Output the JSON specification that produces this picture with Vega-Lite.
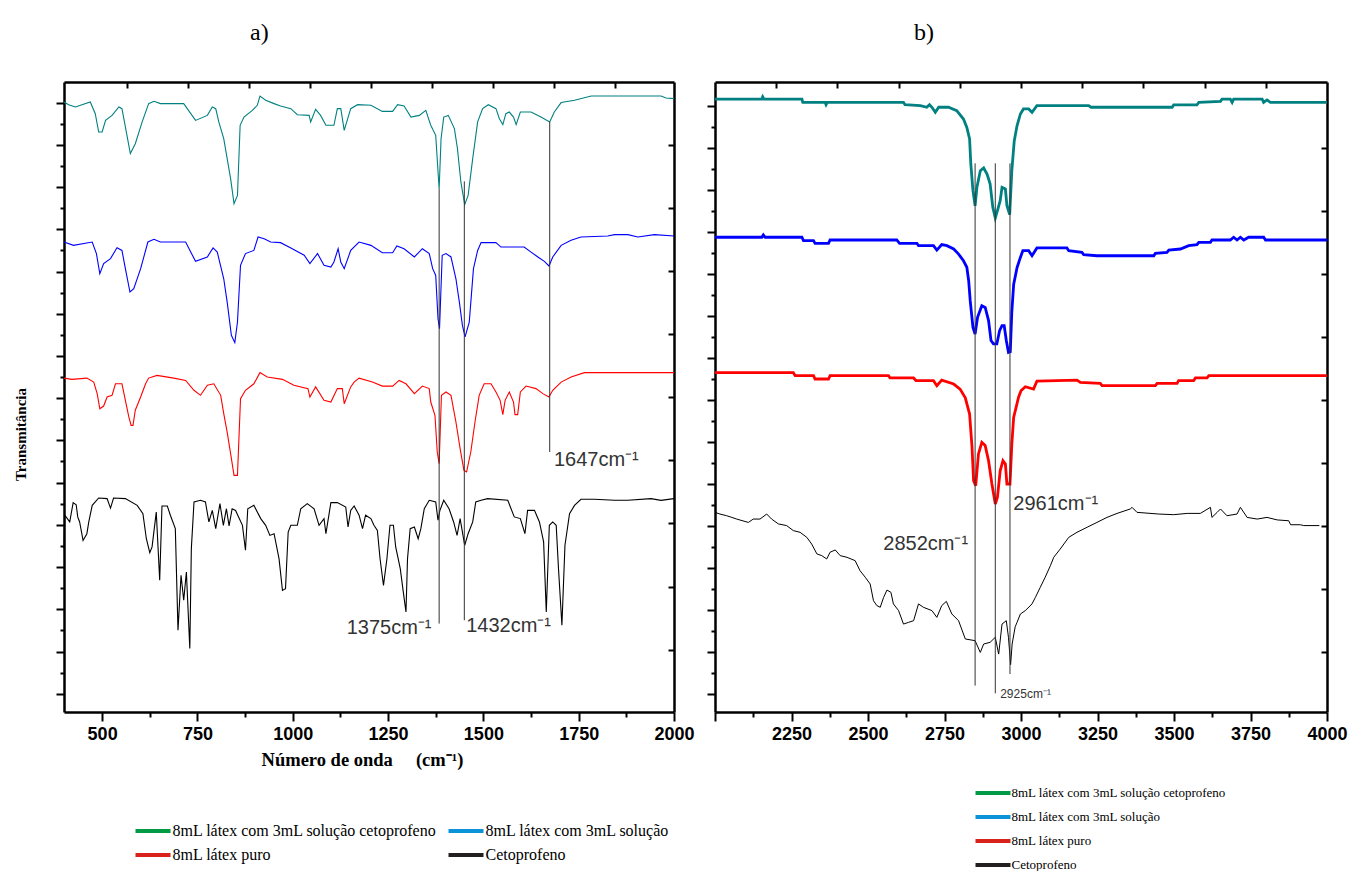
{
"$schema": "https://vega.github.io/schema/vega-lite/v6.json",
"padding": {"left": 13, "top": 21, "right": 5, "bottom": 5},
"background": "white",
"config": {
  "view": {"stroke": null},
  "axis": {"domainColor": "black", "domainWidth": 2.5, "tickColor": "black", "tickWidth": 2, "grid": false,
    "labelFont": "Liberation Sans", "labelFontWeight": "bold", "labelFontSize": 18, "labelColor": "black",
    "titleColor": "black"}
},
"spacing": 11,
"resolve": {"scale": {"color": "independent", "stroke": "independent"}, "legend": {"color": "independent", "stroke": "independent"}},
"datasets": {
"a": [
{"s":"t","x":400,"y":29.05},{"s":"t","x":412,"y":28.92},{"s":"t","x":430,"y":28.81},{"s":"t","x":447,"y":28.92},{"s":"t","x":469,"y":29.05},{"s":"t","x":482,"y":28.49},{"s":"t","x":491,"y":27.62},{"s":"t","x":500,"y":27.62},{"s":"t","x":509,"y":28.17},{"s":"t","x":526,"y":28.41},{"s":"t","x":544,"y":28.81},{"s":"t","x":552,"y":28.73},{"s":"t","x":561,"y":27.86},{"s":"t","x":574,"y":26.59},{"s":"t","x":587,"y":27.06},{"s":"t","x":605,"y":28.10},{"s":"t","x":622,"y":28.97},{"s":"t","x":636,"y":29.08},{"s":"t","x":653,"y":28.97},{"s":"t","x":714,"y":28.97},{"s":"t","x":745,"y":28.17},{"s":"t","x":776,"y":28.41},{"s":"t","x":789,"y":28.81},{"s":"t","x":798,"y":28.73},{"s":"t","x":806,"y":28.10},{"s":"t","x":819,"y":27.30},{"s":"t","x":828,"y":26.35},{"s":"t","x":837,"y":25.40},{"s":"t","x":846,"y":24.21},{"s":"t","x":855,"y":24.60},{"s":"t","x":862,"y":27.94},{"s":"t","x":872,"y":28.33},{"s":"t","x":894,"y":28.65},{"s":"t","x":907,"y":28.89},{"s":"t","x":914,"y":29.33},{"s":"t","x":929,"y":29.13},{"s":"t","x":951,"y":28.97},{"s":"t","x":968,"y":28.86},{"s":"t","x":995,"y":28.73},{"s":"t","x":1012,"y":28.44},{"s":"t","x":1043,"y":28.41},{"s":"t","x":1047,"y":28.10},{"s":"t","x":1060,"y":28.70},{"s":"t","x":1073,"y":28.41},{"s":"t","x":1087,"y":27.94},{"s":"t","x":1108,"y":27.94},{"s":"t","x":1117,"y":28.73},{"s":"t","x":1126,"y":28.73},{"s":"t","x":1135,"y":27.70},{"s":"t","x":1152,"y":28.73},{"s":"t","x":1170,"y":28.92},{"s":"t","x":1205,"y":28.89},{"s":"t","x":1235,"y":28.60},{"s":"t","x":1262,"y":28.60},{"s":"t","x":1275,"y":28.92},{"s":"t","x":1292,"y":28.86},{"s":"t","x":1310,"y":28.33},{"s":"t","x":1332,"y":28.41},{"s":"t","x":1349,"y":28.65},{"s":"t","x":1362,"y":27.94},{"s":"t","x":1375,"y":27.46},{"s":"t","x":1380,"y":26.03},{"s":"t","x":1384,"y":24.92},{"s":"t","x":1389,"y":27.30},{"s":"t","x":1396,"y":28.33},{"s":"t","x":1408,"y":28.41},{"s":"t","x":1424,"y":27.78},{"s":"t","x":1432,"y":26.83},{"s":"t","x":1441,"y":25.24},{"s":"t","x":1451,"y":24.16},{"s":"t","x":1460,"y":24.60},{"s":"t","x":1472,"y":26.35},{"s":"t","x":1485,"y":28.10},{"s":"t","x":1498,"y":28.73},{"s":"t","x":1513,"y":28.92},{"s":"t","x":1533,"y":28.73},{"s":"t","x":1542,"y":28.25},{"s":"t","x":1551,"y":27.97},{"s":"t","x":1559,"y":28.49},{"s":"t","x":1568,"y":28.57},{"s":"t","x":1579,"y":28.33},{"s":"t","x":1586,"y":27.97},{"s":"t","x":1597,"y":28.57},{"s":"t","x":1625,"y":28.57},{"s":"t","x":1651,"y":28.33},{"s":"t","x":1674,"y":28.10},{"s":"t","x":1686,"y":28.57},{"s":"t","x":1704,"y":29.02},{"s":"t","x":1739,"y":29.13},{"s":"t","x":1783,"y":29.33},{"s":"t","x":1818,"y":29.33},{"s":"t","x":1966,"y":29.33},{"s":"t","x":1979,"y":29.24},{"s":"t","x":2000,"y":29.21},
{"s":"b","x":400,"y":22.38},{"s":"b","x":425,"y":22.22},{"s":"b","x":474,"y":22.38},{"s":"b","x":485,"y":21.83},{"s":"b","x":494,"y":20.87},{"s":"b","x":504,"y":21.35},{"s":"b","x":522,"y":21.59},{"s":"b","x":539,"y":22.11},{"s":"b","x":552,"y":21.98},{"s":"b","x":561,"y":21.11},{"s":"b","x":573,"y":20.00},{"s":"b","x":583,"y":20.16},{"s":"b","x":601,"y":21.11},{"s":"b","x":620,"y":22.38},{"s":"b","x":636,"y":22.51},{"s":"b","x":653,"y":22.38},{"s":"b","x":719,"y":22.38},{"s":"b","x":745,"y":21.46},{"s":"b","x":776,"y":21.67},{"s":"b","x":791,"y":22.10},{"s":"b","x":802,"y":21.90},{"s":"b","x":819,"y":20.63},{"s":"b","x":828,"y":19.52},{"s":"b","x":839,"y":17.94},{"s":"b","x":848,"y":17.59},{"s":"b","x":855,"y":18.57},{"s":"b","x":863,"y":21.27},{"s":"b","x":876,"y":21.83},{"s":"b","x":898,"y":21.98},{"s":"b","x":909,"y":22.62},{"s":"b","x":925,"y":22.54},{"s":"b","x":942,"y":22.38},{"s":"b","x":968,"y":22.35},{"s":"b","x":995,"y":22.10},{"s":"b","x":1030,"y":21.75},{"s":"b","x":1045,"y":21.35},{"s":"b","x":1065,"y":21.83},{"s":"b","x":1082,"y":21.27},{"s":"b","x":1100,"y":21.19},{"s":"b","x":1108,"y":21.43},{"s":"b","x":1119,"y":22.06},{"s":"b","x":1126,"y":21.43},{"s":"b","x":1135,"y":21.11},{"s":"b","x":1152,"y":21.98},{"s":"b","x":1174,"y":22.38},{"s":"b","x":1205,"y":22.22},{"s":"b","x":1235,"y":21.87},{"s":"b","x":1262,"y":21.87},{"s":"b","x":1273,"y":22.19},{"s":"b","x":1292,"y":22.06},{"s":"b","x":1319,"y":21.67},{"s":"b","x":1340,"y":22.06},{"s":"b","x":1358,"y":21.83},{"s":"b","x":1367,"y":21.11},{"s":"b","x":1375,"y":20.79},{"s":"b","x":1381,"y":18.73},{"s":"b","x":1385,"y":18.25},{"s":"b","x":1392,"y":21.75},{"s":"b","x":1402,"y":21.83},{"s":"b","x":1415,"y":21.67},{"s":"b","x":1428,"y":20.63},{"s":"b","x":1437,"y":19.52},{"s":"b","x":1445,"y":18.41},{"s":"b","x":1452,"y":17.86},{"s":"b","x":1463,"y":18.57},{"s":"b","x":1474,"y":21.11},{"s":"b","x":1485,"y":21.98},{"s":"b","x":1494,"y":22.35},{"s":"b","x":1533,"y":22.35},{"s":"b","x":1546,"y":22.14},{"s":"b","x":1607,"y":22.14},{"s":"b","x":1625,"y":21.90},{"s":"b","x":1643,"y":21.67},{"s":"b","x":1660,"y":21.46},{"s":"b","x":1672,"y":21.24},{"s":"b","x":1682,"y":21.67},{"s":"b","x":1704,"y":22.22},{"s":"b","x":1730,"y":22.46},{"s":"b","x":1756,"y":22.62},{"s":"b","x":1826,"y":22.67},{"s":"b","x":1844,"y":22.73},{"s":"b","x":1879,"y":22.73},{"s":"b","x":1905,"y":22.62},{"s":"b","x":1949,"y":22.73},{"s":"b","x":2000,"y":22.67},
{"s":"r","x":400,"y":15.90},{"s":"r","x":421,"y":15.84},{"s":"r","x":460,"y":15.90},{"s":"r","x":478,"y":15.71},{"s":"r","x":487,"y":15.16},{"s":"r","x":494,"y":14.44},{"s":"r","x":504,"y":14.57},{"s":"r","x":513,"y":15.00},{"s":"r","x":526,"y":15.08},{"s":"r","x":535,"y":15.63},{"s":"r","x":552,"y":15.63},{"s":"r","x":561,"y":14.84},{"s":"r","x":570,"y":14.05},{"s":"r","x":576,"y":13.65},{"s":"r","x":581,"y":13.65},{"s":"r","x":587,"y":14.37},{"s":"r","x":601,"y":15.00},{"s":"r","x":614,"y":15.63},{"s":"r","x":622,"y":15.90},{"s":"r","x":644,"y":16.03},{"s":"r","x":688,"y":15.90},{"s":"r","x":719,"y":15.79},{"s":"r","x":741,"y":15.32},{"s":"r","x":758,"y":15.08},{"s":"r","x":776,"y":15.56},{"s":"r","x":793,"y":15.63},{"s":"r","x":811,"y":15.08},{"s":"r","x":819,"y":14.21},{"s":"r","x":828,"y":13.33},{"s":"r","x":837,"y":12.30},{"s":"r","x":846,"y":11.27},{"s":"r","x":855,"y":11.27},{"s":"r","x":863,"y":14.92},{"s":"r","x":876,"y":15.32},{"s":"r","x":898,"y":15.63},{"s":"r","x":914,"y":16.16},{"s":"r","x":933,"y":15.95},{"s":"r","x":973,"y":15.84},{"s":"r","x":1003,"y":15.56},{"s":"r","x":1040,"y":15.40},{"s":"r","x":1045,"y":15.00},{"s":"r","x":1060,"y":15.48},{"s":"r","x":1082,"y":14.84},{"s":"r","x":1100,"y":14.76},{"s":"r","x":1117,"y":15.40},{"s":"r","x":1130,"y":15.40},{"s":"r","x":1135,"y":14.68},{"s":"r","x":1152,"y":15.48},{"s":"r","x":1161,"y":15.71},{"s":"r","x":1174,"y":15.90},{"s":"r","x":1209,"y":15.71},{"s":"r","x":1235,"y":15.52},{"s":"r","x":1262,"y":15.52},{"s":"r","x":1279,"y":15.79},{"s":"r","x":1297,"y":15.63},{"s":"r","x":1319,"y":15.16},{"s":"r","x":1340,"y":15.52},{"s":"r","x":1358,"y":15.40},{"s":"r","x":1362,"y":14.76},{"s":"r","x":1373,"y":14.13},{"s":"r","x":1379,"y":12.38},{"s":"r","x":1384,"y":11.83},{"s":"r","x":1390,"y":15.08},{"s":"r","x":1402,"y":15.24},{"s":"r","x":1415,"y":15.08},{"s":"r","x":1428,"y":13.81},{"s":"r","x":1439,"y":12.54},{"s":"r","x":1449,"y":11.51},{"s":"r","x":1456,"y":11.43},{"s":"r","x":1467,"y":12.38},{"s":"r","x":1478,"y":13.81},{"s":"r","x":1489,"y":15.08},{"s":"r","x":1502,"y":15.63},{"s":"r","x":1520,"y":15.63},{"s":"r","x":1533,"y":15.24},{"s":"r","x":1544,"y":14.84},{"s":"r","x":1551,"y":14.16},{"s":"r","x":1557,"y":14.84},{"s":"r","x":1568,"y":15.24},{"s":"r","x":1579,"y":14.76},{"s":"r","x":1583,"y":14.16},{"s":"r","x":1590,"y":14.16},{"s":"r","x":1597,"y":15.24},{"s":"r","x":1612,"y":15.52},{"s":"r","x":1638,"y":15.40},{"s":"r","x":1656,"y":15.16},{"s":"r","x":1672,"y":15.00},{"s":"r","x":1682,"y":15.32},{"s":"r","x":1704,"y":15.71},{"s":"r","x":1730,"y":15.95},{"s":"r","x":1765,"y":16.16},{"s":"r","x":2000,"y":16.16},
{"s":"k","x":400,"y":7.78},{"s":"k","x":402,"y":9.37},{"s":"k","x":415,"y":9.05},{"s":"k","x":424,"y":9.97},{"s":"k","x":432,"y":9.87},{"s":"k","x":436,"y":9.29},{"s":"k","x":441,"y":9.05},{"s":"k","x":450,"y":8.17},{"s":"k","x":460,"y":8.49},{"s":"k","x":465,"y":9.05},{"s":"k","x":474,"y":9.84},{"s":"k","x":491,"y":10.19},{"s":"k","x":513,"y":10.16},{"s":"k","x":522,"y":9.71},{"s":"k","x":530,"y":10.19},{"s":"k","x":561,"y":10.16},{"s":"k","x":592,"y":9.84},{"s":"k","x":607,"y":9.44},{"s":"k","x":616,"y":8.25},{"s":"k","x":625,"y":7.59},{"s":"k","x":631,"y":7.86},{"s":"k","x":642,"y":9.52},{"s":"k","x":651,"y":6.27},{"s":"k","x":657,"y":9.81},{"s":"k","x":671,"y":9.81},{"s":"k","x":679,"y":9.37},{"s":"k","x":692,"y":8.73},{"s":"k","x":699,"y":3.89},{"s":"k","x":707,"y":6.51},{"s":"k","x":714,"y":5.32},{"s":"k","x":721,"y":6.67},{"s":"k","x":730,"y":3.02},{"s":"k","x":734,"y":7.78},{"s":"k","x":741,"y":10.00},{"s":"k","x":758,"y":10.08},{"s":"k","x":771,"y":10.00},{"s":"k","x":780,"y":9.05},{"s":"k","x":789,"y":9.60},{"s":"k","x":798,"y":8.73},{"s":"k","x":809,"y":9.92},{"s":"k","x":818,"y":8.89},{"s":"k","x":826,"y":9.68},{"s":"k","x":833,"y":8.86},{"s":"k","x":841,"y":9.68},{"s":"k","x":850,"y":9.60},{"s":"k","x":868,"y":8.89},{"s":"k","x":876,"y":7.70},{"s":"k","x":882,"y":9.68},{"s":"k","x":898,"y":9.84},{"s":"k","x":916,"y":9.21},{"s":"k","x":929,"y":8.89},{"s":"k","x":940,"y":8.41},{"s":"k","x":951,"y":8.49},{"s":"k","x":964,"y":7.30},{"s":"k","x":973,"y":5.79},{"s":"k","x":981,"y":5.87},{"s":"k","x":988,"y":8.57},{"s":"k","x":995,"y":8.89},{"s":"k","x":1012,"y":8.89},{"s":"k","x":1021,"y":9.68},{"s":"k","x":1038,"y":9.92},{"s":"k","x":1056,"y":9.68},{"s":"k","x":1069,"y":8.89},{"s":"k","x":1082,"y":9.21},{"s":"k","x":1087,"y":8.49},{"s":"k","x":1100,"y":9.97},{"s":"k","x":1117,"y":9.97},{"s":"k","x":1139,"y":9.76},{"s":"k","x":1145,"y":8.81},{"s":"k","x":1152,"y":9.60},{"s":"k","x":1161,"y":9.81},{"s":"k","x":1174,"y":9.37},{"s":"k","x":1183,"y":8.73},{"s":"k","x":1191,"y":9.37},{"s":"k","x":1205,"y":9.21},{"s":"k","x":1213,"y":8.89},{"s":"k","x":1222,"y":8.65},{"s":"k","x":1229,"y":7.30},{"s":"k","x":1238,"y":6.03},{"s":"k","x":1247,"y":7.30},{"s":"k","x":1255,"y":8.89},{"s":"k","x":1264,"y":8.89},{"s":"k","x":1270,"y":7.86},{"s":"k","x":1282,"y":6.83},{"s":"k","x":1290,"y":5.71},{"s":"k","x":1297,"y":4.76},{"s":"k","x":1301,"y":7.30},{"s":"k","x":1308,"y":8.73},{"s":"k","x":1319,"y":8.81},{"s":"k","x":1329,"y":8.25},{"s":"k","x":1336,"y":8.73},{"s":"k","x":1345,"y":9.68},{"s":"k","x":1358,"y":10.08},{"s":"k","x":1375,"y":10.00},{"s":"k","x":1381,"y":9.13},{"s":"k","x":1386,"y":9.60},{"s":"k","x":1396,"y":10.08},{"s":"k","x":1410,"y":9.68},{"s":"k","x":1422,"y":9.05},{"s":"k","x":1431,"y":8.41},{"s":"k","x":1439,"y":9.21},{"s":"k","x":1451,"y":7.94},{"s":"k","x":1460,"y":8.49},{"s":"k","x":1472,"y":9.05},{"s":"k","x":1480,"y":10.00},{"s":"k","x":1494,"y":10.08},{"s":"k","x":1511,"y":10.16},{"s":"k","x":1564,"y":10.08},{"s":"k","x":1581,"y":9.29},{"s":"k","x":1597,"y":9.21},{"s":"k","x":1609,"y":8.49},{"s":"k","x":1616,"y":9.60},{"s":"k","x":1634,"y":9.60},{"s":"k","x":1647,"y":9.05},{"s":"k","x":1658,"y":8.10},{"s":"k","x":1665,"y":4.76},{"s":"k","x":1673,"y":8.89},{"s":"k","x":1682,"y":9.05},{"s":"k","x":1691,"y":8.89},{"s":"k","x":1697,"y":6.83},{"s":"k","x":1706,"y":4.13},{"s":"k","x":1714,"y":7.94},{"s":"k","x":1726,"y":9.44},{"s":"k","x":1739,"y":9.84},{"s":"k","x":1756,"y":10.13},{"s":"k","x":1791,"y":10.13},{"s":"k","x":1844,"y":10.08},{"s":"k","x":1879,"y":10.08},{"s":"k","x":1940,"y":10.16},{"s":"k","x":1966,"y":10.08},{"s":"k","x":2000,"y":10.16}
],
"b": [
{"s":"t","x":2000,"y":28.33},{"s":"t","x":2153,"y":28.33},{"s":"t","x":2156,"y":28.44},{"s":"t","x":2160,"y":28.33},{"s":"t","x":2284,"y":28.33},{"s":"t","x":2287,"y":28.17},{"s":"t","x":2360,"y":28.17},{"s":"t","x":2363,"y":28.06},{"s":"t","x":2367,"y":28.17},{"s":"t","x":2616,"y":28.17},{"s":"t","x":2621,"y":28.06},{"s":"t","x":2671,"y":28.02},{"s":"t","x":2692,"y":27.94},{"s":"t","x":2701,"y":28.06},{"s":"t","x":2709,"y":27.94},{"s":"t","x":2720,"y":27.70},{"s":"t","x":2731,"y":27.94},{"s":"t","x":2763,"y":27.94},{"s":"t","x":2790,"y":27.78},{"s":"t","x":2812,"y":27.38},{"s":"t","x":2823,"y":26.98},{"s":"t","x":2832,"y":26.43},{"s":"t","x":2836,"y":25.24},{"s":"t","x":2843,"y":23.97},{"s":"t","x":2850,"y":23.25},{"s":"t","x":2856,"y":24.13},{"s":"t","x":2867,"y":24.92},{"s":"t","x":2878,"y":25.05},{"s":"t","x":2889,"y":24.76},{"s":"t","x":2899,"y":24.29},{"s":"t","x":2908,"y":23.17},{"s":"t","x":2916,"y":22.67},{"s":"t","x":2923,"y":23.02},{"s":"t","x":2932,"y":23.49},{"s":"t","x":2938,"y":24.13},{"s":"t","x":2949,"y":24.05},{"s":"t","x":2954,"y":23.25},{"s":"t","x":2963,"y":22.83},{"s":"t","x":2970,"y":24.92},{"s":"t","x":2978,"y":26.35},{"s":"t","x":2987,"y":27.06},{"s":"t","x":2998,"y":27.62},{"s":"t","x":3008,"y":27.86},{"s":"t","x":3025,"y":27.86},{"s":"t","x":3036,"y":27.70},{"s":"t","x":3052,"y":28.02},{"s":"t","x":3221,"y":28.02},{"s":"t","x":3229,"y":27.94},{"s":"t","x":3494,"y":27.94},{"s":"t","x":3499,"y":28.05},{"s":"t","x":3575,"y":28.05},{"s":"t","x":3581,"y":28.17},{"s":"t","x":3652,"y":28.22},{"s":"t","x":3657,"y":28.33},{"s":"t","x":3684,"y":28.33},{"s":"t","x":3690,"y":28.17},{"s":"t","x":3695,"y":28.33},{"s":"t","x":3788,"y":28.33},{"s":"t","x":3793,"y":28.17},{"s":"t","x":3804,"y":28.29},{"s":"t","x":3815,"y":28.17},{"s":"t","x":4000,"y":28.17},
{"s":"b","x":2000,"y":21.75},{"s":"b","x":2153,"y":21.75},{"s":"b","x":2158,"y":21.86},{"s":"b","x":2164,"y":21.75},{"s":"b","x":2284,"y":21.75},{"s":"b","x":2289,"y":21.59},{"s":"b","x":2322,"y":21.59},{"s":"b","x":2327,"y":21.46},{"s":"b","x":2371,"y":21.46},{"s":"b","x":2376,"y":21.62},{"s":"b","x":2594,"y":21.62},{"s":"b","x":2603,"y":21.46},{"s":"b","x":2660,"y":21.46},{"s":"b","x":2665,"y":21.35},{"s":"b","x":2714,"y":21.35},{"s":"b","x":2725,"y":21.14},{"s":"b","x":2741,"y":21.40},{"s":"b","x":2758,"y":21.35},{"s":"b","x":2780,"y":21.19},{"s":"b","x":2796,"y":20.95},{"s":"b","x":2812,"y":20.63},{"s":"b","x":2823,"y":20.32},{"s":"b","x":2829,"y":19.68},{"s":"b","x":2834,"y":18.73},{"s":"b","x":2843,"y":17.46},{"s":"b","x":2850,"y":17.14},{"s":"b","x":2858,"y":17.94},{"s":"b","x":2872,"y":18.49},{"s":"b","x":2883,"y":18.41},{"s":"b","x":2894,"y":17.78},{"s":"b","x":2902,"y":16.83},{"s":"b","x":2910,"y":16.67},{"s":"b","x":2921,"y":16.67},{"s":"b","x":2930,"y":17.30},{"s":"b","x":2938,"y":17.54},{"s":"b","x":2945,"y":17.54},{"s":"b","x":2952,"y":16.83},{"s":"b","x":2959,"y":16.27},{"s":"b","x":2965,"y":16.30},{"s":"b","x":2970,"y":18.20},{"s":"b","x":2976,"y":19.50},{"s":"b","x":2987,"y":20.30},{"s":"b","x":2998,"y":20.79},{"s":"b","x":3006,"y":21.11},{"s":"b","x":3025,"y":21.11},{"s":"b","x":3036,"y":20.87},{"s":"b","x":3052,"y":21.24},{"s":"b","x":3150,"y":21.24},{"s":"b","x":3156,"y":21.11},{"s":"b","x":3199,"y":21.03},{"s":"b","x":3205,"y":20.92},{"s":"b","x":3248,"y":20.87},{"s":"b","x":3434,"y":20.87},{"s":"b","x":3439,"y":20.98},{"s":"b","x":3477,"y":21.03},{"s":"b","x":3483,"y":21.14},{"s":"b","x":3521,"y":21.19},{"s":"b","x":3548,"y":21.35},{"s":"b","x":3575,"y":21.40},{"s":"b","x":3581,"y":21.51},{"s":"b","x":3619,"y":21.51},{"s":"b","x":3624,"y":21.62},{"s":"b","x":3684,"y":21.62},{"s":"b","x":3695,"y":21.75},{"s":"b","x":3706,"y":21.62},{"s":"b","x":3717,"y":21.75},{"s":"b","x":3728,"y":21.62},{"s":"b","x":3744,"y":21.75},{"s":"b","x":3793,"y":21.75},{"s":"b","x":3799,"y":21.62},{"s":"b","x":4000,"y":21.62},
{"s":"r","x":2000,"y":15.30},{"s":"r","x":2256,"y":15.30},{"s":"r","x":2262,"y":15.16},{"s":"r","x":2322,"y":15.16},{"s":"r","x":2327,"y":15.00},{"s":"r","x":2371,"y":15.00},{"s":"r","x":2376,"y":15.16},{"s":"r","x":2567,"y":15.16},{"s":"r","x":2572,"y":15.05},{"s":"r","x":2649,"y":15.05},{"s":"r","x":2657,"y":14.92},{"s":"r","x":2714,"y":14.92},{"s":"r","x":2725,"y":14.68},{"s":"r","x":2741,"y":14.95},{"s":"r","x":2780,"y":14.76},{"s":"r","x":2801,"y":14.52},{"s":"r","x":2818,"y":14.10},{"s":"r","x":2832,"y":13.33},{"s":"r","x":2840,"y":11.75},{"s":"r","x":2845,"y":10.16},{"s":"r","x":2852,"y":9.92},{"s":"r","x":2861,"y":11.43},{"s":"r","x":2872,"y":11.98},{"s":"r","x":2883,"y":11.83},{"s":"r","x":2894,"y":11.11},{"s":"r","x":2905,"y":10.00},{"s":"r","x":2916,"y":9.05},{"s":"r","x":2923,"y":9.37},{"s":"r","x":2932,"y":10.63},{"s":"r","x":2941,"y":11.11},{"s":"r","x":2949,"y":10.95},{"s":"r","x":2954,"y":10.00},{"s":"r","x":2964,"y":10.00},{"s":"r","x":2970,"y":11.90},{"s":"r","x":2976,"y":13.17},{"s":"r","x":2984,"y":13.65},{"s":"r","x":2992,"y":14.13},{"s":"r","x":3000,"y":14.44},{"s":"r","x":3014,"y":14.63},{"s":"r","x":3041,"y":14.52},{"s":"r","x":3052,"y":14.90},{"s":"r","x":3183,"y":14.95},{"s":"r","x":3194,"y":14.84},{"s":"r","x":3259,"y":14.79},{"s":"r","x":3265,"y":14.68},{"s":"r","x":3439,"y":14.68},{"s":"r","x":3445,"y":14.79},{"s":"r","x":3510,"y":14.79},{"s":"r","x":3515,"y":14.92},{"s":"r","x":3564,"y":14.92},{"s":"r","x":3570,"y":15.05},{"s":"r","x":3608,"y":15.05},{"s":"r","x":3614,"y":15.16},{"s":"r","x":4000,"y":15.16},
{"s":"k","x":2000,"y":8.65},{"s":"k","x":2016,"y":8.57},{"s":"k","x":2038,"y":8.49},{"s":"k","x":2055,"y":8.41},{"s":"k","x":2071,"y":8.33},{"s":"k","x":2109,"y":8.17},{"s":"k","x":2125,"y":8.33},{"s":"k","x":2147,"y":8.33},{"s":"k","x":2169,"y":8.57},{"s":"k","x":2185,"y":8.33},{"s":"k","x":2207,"y":8.10},{"s":"k","x":2234,"y":8.02},{"s":"k","x":2256,"y":7.78},{"s":"k","x":2278,"y":7.70},{"s":"k","x":2300,"y":7.46},{"s":"k","x":2316,"y":7.14},{"s":"k","x":2333,"y":6.67},{"s":"k","x":2349,"y":6.59},{"s":"k","x":2365,"y":6.43},{"s":"k","x":2376,"y":6.75},{"s":"k","x":2393,"y":6.86},{"s":"k","x":2409,"y":6.59},{"s":"k","x":2431,"y":6.51},{"s":"k","x":2458,"y":6.35},{"s":"k","x":2474,"y":5.87},{"s":"k","x":2491,"y":5.56},{"s":"k","x":2507,"y":5.24},{"s":"k","x":2518,"y":4.44},{"s":"k","x":2529,"y":4.21},{"s":"k","x":2540,"y":4.13},{"s":"k","x":2551,"y":4.60},{"s":"k","x":2562,"y":4.95},{"s":"k","x":2575,"y":4.84},{"s":"k","x":2583,"y":4.29},{"s":"k","x":2600,"y":3.97},{"s":"k","x":2616,"y":3.33},{"s":"k","x":2632,"y":3.41},{"s":"k","x":2649,"y":3.49},{"s":"k","x":2665,"y":4.29},{"s":"k","x":2681,"y":4.13},{"s":"k","x":2709,"y":3.97},{"s":"k","x":2725,"y":3.65},{"s":"k","x":2741,"y":4.21},{"s":"k","x":2756,"y":4.41},{"s":"k","x":2774,"y":3.81},{"s":"k","x":2796,"y":3.49},{"s":"k","x":2818,"y":2.62},{"s":"k","x":2850,"y":2.54},{"s":"k","x":2867,"y":1.98},{"s":"k","x":2878,"y":2.38},{"s":"k","x":2899,"y":2.46},{"s":"k","x":2916,"y":2.70},{"s":"k","x":2927,"y":1.90},{"s":"k","x":2938,"y":3.33},{"s":"k","x":2952,"y":3.49},{"s":"k","x":2959,"y":2.70},{"s":"k","x":2966,"y":1.40},{"s":"k","x":2971,"y":2.38},{"s":"k","x":2981,"y":3.20},{"s":"k","x":2987,"y":3.41},{"s":"k","x":2998,"y":3.81},{"s":"k","x":3014,"y":3.97},{"s":"k","x":3036,"y":4.29},{"s":"k","x":3047,"y":4.60},{"s":"k","x":3063,"y":5.08},{"s":"k","x":3079,"y":5.56},{"s":"k","x":3096,"y":6.11},{"s":"k","x":3107,"y":6.51},{"s":"k","x":3128,"y":6.90},{"s":"k","x":3156,"y":7.46},{"s":"k","x":3183,"y":7.70},{"s":"k","x":3216,"y":7.94},{"s":"k","x":3248,"y":8.17},{"s":"k","x":3281,"y":8.41},{"s":"k","x":3314,"y":8.60},{"s":"k","x":3357,"y":8.81},{"s":"k","x":3363,"y":8.89},{"s":"k","x":3379,"y":8.65},{"s":"k","x":3450,"y":8.57},{"s":"k","x":3499,"y":8.54},{"s":"k","x":3543,"y":8.60},{"s":"k","x":3586,"y":8.60},{"s":"k","x":3619,"y":8.89},{"s":"k","x":3624,"y":8.41},{"s":"k","x":3641,"y":8.65},{"s":"k","x":3652,"y":8.81},{"s":"k","x":3673,"y":8.49},{"s":"k","x":3706,"y":8.57},{"s":"k","x":3717,"y":8.89},{"s":"k","x":3739,"y":8.41},{"s":"k","x":3772,"y":8.33},{"s":"k","x":3804,"y":8.41},{"s":"k","x":3837,"y":8.29},{"s":"k","x":3875,"y":8.25},{"s":"k","x":3881,"y":8.06},{"s":"k","x":3913,"y":8.06},{"s":"k","x":3924,"y":8.02},{"s":"k","x":3975,"y":8.02}
],
"names": [{"s": "8mL látex com 3mL solução cetoprofeno"}]
},
"hconcat": [
{
  "width": 610, "height": 630,
  "title": {"text": "a)", "anchor": "start", "dx": 237, "font": "Liberation Serif", "fontSize": 24, "fontWeight": "normal", "baseline": "alphabetic", "offset": 17, "color": "black"},
  "resolve": {"axis": {"x": "independent", "y": "independent"}},
  "layer": [
    {
      "data": {"name": "a"},
      "mark": {"type": "line", "strokeWidth": 1.1},
      "encoding": {
        "x": {"field": "x", "type": "quantitative", "scale": {"domain": [400, 2000], "nice": false, "zero": false},
          "axis": {"orient": "bottom", "values": [500,625,750,875,1000,1125,1250,1375,1500,1625,1750,1875,2000], "format": "d",
            "labelExpr": "datum.value % 250 === 0 ? datum.label : ''",
            "tickSize": {"condition": {"test": "datum.value % 250 === 0", "value": 9}, "value": 5},
            "labelPadding": 4, "labelFlush": false, "labelOverlap": false,
            "title": "Número de onda\u00a0\u00a0\u00a0\u00a0\u00a0(cm⁻¹)", "titleFont": "Liberation Serif", "titleFontSize": 18.5, "titleFontWeight": "bold", "titlePadding": 7, "titleX": 298}},
        "y": {"field": "y", "type": "quantitative", "scale": {"domain": [0, 30], "nice": false, "zero": false},
          "axis": {"orient": "left", "values": [0.87,1.88,2.88,3.89,4.89,5.9,6.9,7.91,8.91,9.92,10.92,11.93,12.93,13.94,14.94,15.95,16.95,17.96,18.96,19.97,20.97,21.98,22.98,23.99,24.99,26,27,28.01,29.01],
            "labels": false,
            "tickSize": {"condition": {"test": "indexof([0.87,2.88,4.89,6.9,8.91,10.92,12.93,14.94,16.95,18.96,20.97,22.98,24.99,27,29.01], datum.value) >= 0", "value": 8}, "value": 4},
            "title": "Transmitância", "titleFont": "Liberation Serif", "titleFontSize": 15, "titleFontWeight": "bold", "titleX": -36, "titleY": 352}},
        "color": {"field": "s", "type": "nominal", "scale": {"domain": ["t","b","r","k"], "range": ["#008080","#0000ff","#ff0000","#000000"]}, "legend": null}
      }
    },
    {
      "data": {"values": [{"x": 1384, "y1": 24.92, "y2": 4.21}, {"x": 1450, "y1": 25.27, "y2": 4.37}, {"x": 1674, "y1": 28.1, "y2": 12.38}]},
      "mark": {"type": "rule", "color": "#333333", "strokeWidth": 1},
      "encoding": {
        "x": {"field": "x", "type": "quantitative", "scale": {"domain": [400, 2000], "nice": false, "zero": false},
          "axis": {"orient": "top", "values": [566,726,886,1046,1206,1366,1526,1686,1846], "labels": false, "tickSize": -6, "title": null}},
        "y": {"field": "y1", "type": "quantitative", "scale": {"domain": [0, 30], "nice": false, "zero": false},
          "axis": {"orient": "right", "values": [2.95,5.95,9,12,15,18,21,24,27], "labels": false, "tickSize": -6, "title": null}},
        "y2": {"field": "y2"}
      }
    },
    {
      "data": {"values": [{"x": 1455, "y": 3.81, "label": "1432cm⁻¹"}, {"x": 1685, "y": 11.7, "label": "1647cm⁻¹"}]},
      "mark": {"type": "text", "font": "Liberation Sans", "fontSize": 20, "color": "#333333", "align": "left", "baseline": "alphabetic"},
      "encoding": {
        "x": {"field": "x", "type": "quantitative", "scale": {"domain": [400, 2000], "nice": false, "zero": false}, "axis": null},
        "y": {"field": "y", "type": "quantitative", "scale": {"domain": [0, 30], "nice": false, "zero": false}, "axis": null},
        "text": {"field": "label"}
      }
    },
    {
      "data": {"values": [{"x": 1364, "y": 3.71, "label": "1375cm⁻¹"}]},
      "mark": {"type": "text", "font": "Liberation Sans", "fontSize": 20, "color": "#333333", "align": "right", "baseline": "alphabetic"},
      "encoding": {
        "x": {"field": "x", "type": "quantitative", "scale": {"domain": [400, 2000], "nice": false, "zero": false}, "axis": null},
        "y": {"field": "y", "type": "quantitative", "scale": {"domain": [0, 30], "nice": false, "zero": false}, "axis": null},
        "text": {"field": "label"}
      }
    },
    {
      "data": {"name": "names"},
      "transform": [{"filter": "false"}],
      "mark": {"type": "line"},
      "encoding": {
        "stroke": {"field": "s", "type": "nominal",
          "scale": {"domain": ["8mL látex com 3mL solução cetoprofeno", "8mL látex com 3mL solução", "8mL látex puro", "Cetoprofeno"], "range": ["#009a44", "#0a93d8", "#d9221c", "#231f20"]},
          "legend": {"orient": "none", "direction": "horizontal", "legendX": 81, "legendY": 741, "columns": 2, "title": null, "symbolType": "M-3.5,0L3.5,0", "symbolSize": 100, "symbolStrokeWidth": 4,
            "labelFont": "Liberation Serif", "labelFontSize": 16, "labelColor": "black", "labelLimit": 500, "labelOffset": 11.5, "columnPadding": 3, "rowPadding": 8, "padding": 0}}
      }
    }
  ]
},
{
  "width": 612, "height": 630,
  "title": {"text": "b)", "anchor": "start", "dx": 208, "font": "Liberation Serif", "fontSize": 24, "fontWeight": "normal", "baseline": "alphabetic", "offset": 17, "color": "black"},
  "resolve": {"axis": {"x": "independent", "y": "independent"}},
  "layer": [
    {
      "data": {"name": "b"},
      "mark": {"type": "line"},
      "encoding": {
        "x": {"field": "x", "type": "quantitative", "scale": {"domain": [2000, 4000], "nice": false, "zero": false},
          "axis": {"orient": "bottom", "values": [2000,2125,2250,2375,2500,2625,2750,2875,3000,3125,3250,3375,3500,3625,3750,3875,4000], "format": "d",
            "labelExpr": "datum.value % 250 === 0 && datum.value > 2000 ? datum.label : ''",
            "tickSize": {"condition": {"test": "datum.value % 250 === 0", "value": 9}, "value": 5},
            "labelPadding": 4, "labelFlush": false, "labelOverlap": false, "title": null}},
        "y": {"field": "y", "type": "quantitative", "scale": {"domain": [-0.857, 29.143], "nice": false, "zero": false},
          "axis": {"orient": "left", "values": [0,1,2,3,4,5,6,7,8,9,10,11,12,13,14,15,16,17,18,19,20,21,22,23,24,25,26,27,28],
            "labels": false, "title": null,
            "tickSize": {"condition": {"test": "datum.value % 2 === 0", "value": 8}, "value": 4}}},
        "color": {"field": "s", "type": "nominal", "scale": {"domain": ["t","b","r","k"], "range": ["#008080","#0000ff","#ff0000","#000000"]}, "legend": null},
        "strokeWidth": {"condition": {"test": "datum.s === 'k'", "value": 1}, "value": 2.8}
      }
    },
    {
      "data": {"values": [{"x": 2850, "y1": 25.27, "y2": 0.40}, {"x": 2916, "y1": 25.27, "y2": 0.03}, {"x": 2964, "y1": 25.27, "y2": 0.95}]},
      "mark": {"type": "rule", "color": "#333333", "strokeWidth": 1},
      "encoding": {
        "x": {"field": "x", "type": "quantitative", "scale": {"domain": [2000, 4000], "nice": false, "zero": false},
          "axis": {"orient": "top", "values": [2200,2400,2600,2800,3000,3200,3400,3600,3800], "labels": false, "tickSize": -6, "title": null}},
        "y": {"field": "y1", "type": "quantitative", "scale": {"domain": [-0.857, 29.143], "nice": false, "zero": false},
          "axis": {"orient": "right", "values": [2,5,8,11,14,17,20,23,26], "labels": false, "tickSize": -6, "title": null}},
        "y2": {"field": "y2"}
      }
    },
    {
      "data": {"values": [{"x": 2550, "y": 6.86, "label": "2852cm⁻¹"}, {"x": 2975, "y": 8.76, "label": "2961cm⁻¹"}]},
      "mark": {"type": "text", "font": "Liberation Sans", "fontSize": 20, "color": "#333333", "align": "left", "baseline": "alphabetic"},
      "encoding": {
        "x": {"field": "x", "type": "quantitative", "scale": {"domain": [2000, 4000], "nice": false, "zero": false}, "axis": null},
        "y": {"field": "y", "type": "quantitative", "scale": {"domain": [-0.857, 29.143], "nice": false, "zero": false}, "axis": null},
        "text": {"field": "label"}
      }
    },
    {
      "data": {"values": [{"x": 2932, "y": -0.19, "label": "2925cm⁻¹"}]},
      "mark": {"type": "text", "font": "Liberation Sans", "fontSize": 12, "color": "#333333", "align": "left", "baseline": "alphabetic"},
      "encoding": {
        "x": {"field": "x", "type": "quantitative", "scale": {"domain": [2000, 4000], "nice": false, "zero": false}, "axis": null},
        "y": {"field": "y", "type": "quantitative", "scale": {"domain": [-0.857, 29.143], "nice": false, "zero": false}, "axis": null},
        "text": {"field": "label"}
      }
    },
    {
      "data": {"name": "names"},
      "transform": [{"filter": "false"}],
      "mark": {"type": "line"},
      "encoding": {
        "stroke": {"field": "s", "type": "nominal",
          "scale": {"domain": ["8mL látex com 3mL solução cetoprofeno", "8mL látex com 3mL solução", "8mL látex puro", "Cetoprofeno"], "range": ["#009a44", "#0a93d8", "#d9221c", "#231f20"]},
          "legend": {"orient": "none", "legendX": 271, "legendY": 704, "columns": 1, "title": null, "symbolType": "M-3.5,0L3.5,0", "symbolSize": 100, "symbolStrokeWidth": 4,
            "labelFont": "Liberation Serif", "labelFontSize": 13, "labelColor": "black", "labelLimit": 500, "labelOffset": 11.5, "rowPadding": 8, "padding": 0}}
      }
    }
  ]
}
]
}
